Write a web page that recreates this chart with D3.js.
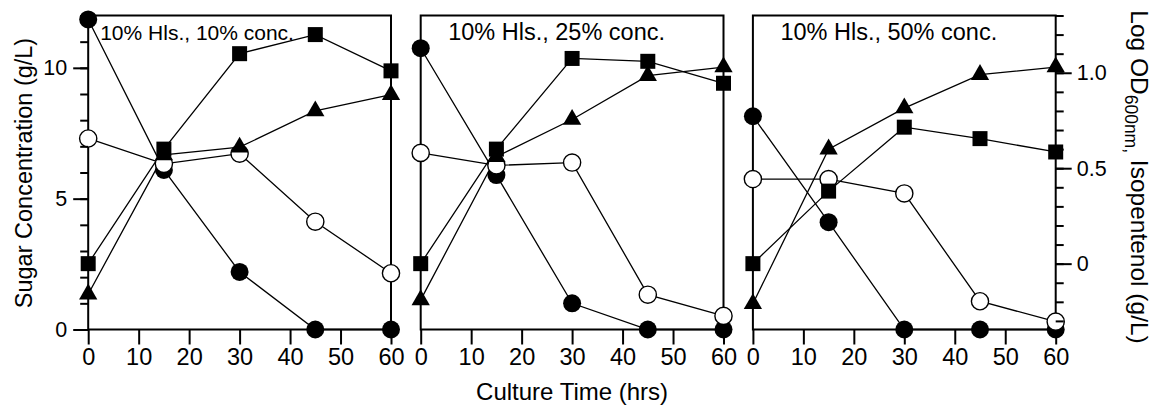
<!DOCTYPE html>
<html>
<head>
<meta charset="utf-8">
<script src="https://cdn.jsdelivr.net/npm/d3@7"></script>
<style>
  html, body { margin: 0; padding: 0; background: #fff; }
  svg { display: block; font-family: "Liberation Sans", Arial, Helvetica, sans-serif; }
</style>
</head>
<body>
<svg id="chart" width="1157" height="410"></svg>
<script>
// Sampling times (hours)
const times = [0, 15, 30, 45, 60];
const xTicks = [0, 10, 20, 30, 40, 50, 60];

// Panel conditions
const panelTitles = ["10% Hls., 10% conc.", "10% Hls., 25% conc.", "10% Hls., 50% conc."];

// Sugars, g/L (left axis)
const glucose = [
  [11.85, 6.1, 2.2, 0, 0],
  [10.75, 5.9, 1.0, 0, 0],
  [8.15, 4.1, 0, 0, 0]
];
const xylose = [
  [7.3, 6.33, 6.72, 4.12, 2.15],
  [6.75, 6.27, 6.38, 1.33, 0.52],
  [5.75, 5.75, 5.2, 1.08, 0.3]
];

// Right axis: log OD600 and isopentenol (g/L)
const logOD = [
  [-0.16, 0.57, 0.61, 0.80, 0.885],
  [-0.19, 0.56, 0.755, 0.985, 1.03],
  [-0.21, 0.60, 0.815, 0.99, 1.03]
];
const isopentenol = [
  [0.0, 0.60, 1.10, 1.20, 1.01],
  [0.0, 0.60, 1.075, 1.06, 0.945],
  [0.0, 0.38, 0.715, 0.655, 0.585]
];

// Axis ticks
const leftMajor = [0, 5, 10];
const leftMinor = d3.range(0, 13, 1);
const rightMajor = [0, 0.5, 1.0];
const rightMinor = d3.range(-3, 14).map(d => d / 10);

const svg = d3.select("#chart");

const plotTop = 15.5, plotBottom = 329.5;
const panelLeft = [88.2, 420.7, 752.9];
const panelW = 302.8;

const yL = d3.scaleLinear().domain([0, 12]).range([plotBottom, plotTop]);
const yR = d3.scaleLinear().domain([-0.345, 1.3]).range([plotBottom, plotTop]);

const axisStroke = 2;
const lineStroke = 1.3;

function styleAxis(g, fontSize) {
  g.select(".domain").remove();
  g.selectAll(".tick line").attr("stroke", "#000").attr("stroke-width", axisStroke);
  g.selectAll(".tick text").attr("fill", "#000").attr("font-size", fontSize)
    .attr("font-family", "Liberation Sans, Arial, sans-serif");
}

panelTitles.forEach((title, p) => {
  const x = d3.scaleLinear().domain([0, 60]).range([panelLeft[p], panelLeft[p] + panelW]);
  const g = svg.append("g");

  // x axis
  const gx = g.append("g").attr("transform", `translate(0,${plotBottom})`)
    .call(d3.axisBottom(x).tickValues(xTicks).tickSize(15).tickPadding(3.5).tickFormat(d3.format("d")));
  styleAxis(gx, 23.5);

  // frame
  g.append("rect")
    .attr("x", x(0)).attr("y", plotTop)
    .attr("width", x(60) - x(0)).attr("height", plotBottom - plotTop)
    .attr("fill", "none").attr("stroke", "#000").attr("stroke-width", axisStroke);

  // series lines
  const lineL = d3.line().x((d, i) => x(times[i])).y(d => yL(d));
  const lineR = d3.line().x((d, i) => x(times[i])).y(d => yR(d));
  [[glucose[p], lineL], [xylose[p], lineL], [logOD[p], lineR], [isopentenol[p], lineR]].forEach(([vals, gen]) => {
    g.append("path").attr("d", gen(vals))
      .attr("fill", "none").attr("stroke", "#000").attr("stroke-width", lineStroke);
  });

  // markers
  g.selectAll(null).data(glucose[p]).join("circle")
    .attr("cx", (d, i) => x(times[i])).attr("cy", d => yL(d)).attr("r", 9)
    .attr("fill", "#000");
  g.selectAll(null).data(xylose[p]).join("circle")
    .attr("cx", (d, i) => x(times[i])).attr("cy", d => yL(d)).attr("r", 8.6)
    .attr("fill", "#fff").attr("stroke", "#000").attr("stroke-width", 1.4);
  const tri = d3.symbol().type(d3.symbolTriangle).size(145);
  g.selectAll(null).data(logOD[p]).join("path")
    .attr("d", tri)
    .attr("transform", (d, i) => `translate(${x(times[i])},${yR(d)})`)
    .attr("fill", "#000");
  const sq = d3.symbol().type(d3.symbolSquare).size(225);
  g.selectAll(null).data(isopentenol[p]).join("path")
    .attr("d", sq)
    .attr("transform", (d, i) => `translate(${x(times[i])},${yR(d)})`)
    .attr("fill", "#000");

  // panel title
  g.append("text")
    .attr("x", p === 0 ? x(0) + 12 : x(0) + 27.5)
    .attr("y", 40)
    .attr("font-size", p === 0 ? 21 : 23.5)
    .attr("fill", "#000")
    .text(title);

  // left axis on the first panel
  if (p === 0) {
    const gmin = g.append("g").attr("transform", `translate(${x(0)},0)`)
      .call(d3.axisLeft(yL).tickValues(leftMinor).tickSize(8).tickFormat(""));
    styleAxis(gmin, 21);
    const gmaj = g.append("g").attr("transform", `translate(${x(0)},0)`)
      .call(d3.axisLeft(yL).tickValues(leftMajor).tickSize(15).tickPadding(6).tickFormat(d3.format("d")));
    styleAxis(gmaj, 21.5);
  }
  // right axis on the last panel
  if (p === 2) {
    const gmin = g.append("g").attr("transform", `translate(${x(60)},0)`)
      .call(d3.axisRight(yR).tickValues(rightMinor).tickSize(8).tickFormat(""));
    styleAxis(gmin, 21);
    const gmaj = g.append("g").attr("transform", `translate(${x(60)},0)`)
      .call(d3.axisRight(yR).tickValues(rightMajor).tickSize(16).tickPadding(5)
        .tickFormat(d => d === 0 ? "0" : d3.format(".1f")(d)));
    styleAxis(gmaj, 21.5);
  }
});

// axis titles
svg.append("text")
  .attr("transform", `translate(32,173) rotate(-90)`)
  .attr("text-anchor", "middle")
  .attr("font-size", 23.5)
  .attr("fill", "#000")
  .text("Sugar Concentration (g/L)");

svg.append("text")
  .attr("x", (panelLeft[1] + panelLeft[1] + panelW) / 2)
  .attr("y", 400)
  .attr("text-anchor", "middle")
  .attr("font-size", 24)
  .attr("fill", "#000")
  .text("Culture Time (hrs)");

const rt = svg.append("text")
  .attr("transform", `translate(1131,177) rotate(90)`)
  .attr("text-anchor", "middle")
  .attr("font-size", 24.5)
  .attr("fill", "#000");
rt.append("tspan").text("Log OD");
rt.append("tspan").attr("font-size", 17.5).attr("dy", 6).text("600nm,");
rt.append("tspan").attr("dy", -6).text(" Isopentenol (g/L)");
</script>
</body>
</html>
